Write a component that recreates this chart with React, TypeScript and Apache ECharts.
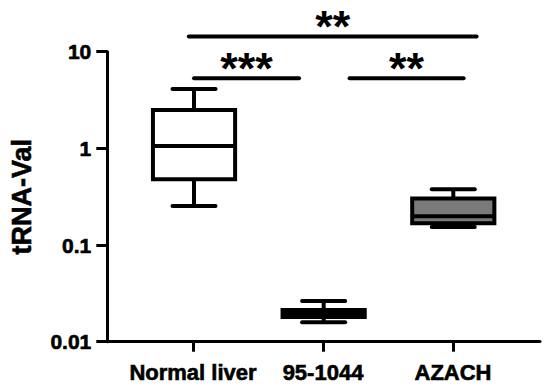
import React, { useEffect, useRef } from 'react';
import * as echarts from 'echarts';

// ---- data ----
const categories = ['Normal liver', '95-1044', 'AZACH'];
const whiskerLow = [0.254, 0.0159, 0.154];
const quartile1 = [0.479, 0.018, 0.168];
const medians = [1.06, 0.0195, 0.198];
const quartile3 = [2.49, 0.0213, 0.303];
const whiskerHigh = [4.11, 0.0264, 0.378];
const yTickValues = [0.01, 0.1, 1, 10];

// significance brackets (x in group index units, y in data units)
const sigStart = [-0.04, 0.0, 1.2];
const sigEnd = [2.18, 0.81, 2.08];
const sigLevel = [14.4, 5.3, 5.3];
const sigText = ['**', '***', '**'];

// ---- styles ----
const BOX_FILLS = ['#ffffff', '#000000', '#7a7a7a'];
const FONT = '"Liberation Sans", Arial, Helvetica, sans-serif';
const LW = 4;

export default function App() {
  const ref = useRef<HTMLDivElement>(null);

  useEffect(() => {
    if (!ref.current) return;
    const chart = echarts.init(ref.current, undefined, { renderer: 'svg' });

    const boxData = categories.map((_, i) => [
      i,
      whiskerLow[i],
      quartile1[i],
      medians[i],
      quartile3[i],
      whiskerHigh[i],
    ]);
    const sigData = sigStart.map((s, i) => [s, sigEnd[i], sigLevel[i], i]);

    const boldText = {
      color: '#000',
      fontFamily: FONT,
      fontWeight: 'bold',
      textBorderColor: '#000',
      textBorderWidth: 0.6,
    };

    const option: any = {
      animation: false,
      backgroundColor: '#ffffff',
      grid: [
        { left: 106, right: 10, top: 51.7, bottom: 47.3, containLabel: false },
        { left: 128, right: 32, top: 51.7, bottom: 47.3, containLabel: false },
      ],
      xAxis: [
        {
          type: 'value',
          gridIndex: 0,
          min: -0.669,
          max: 2.669,
          axisLine: { show: true, onZero: false, lineStyle: { color: '#000', width: 3 } },
          axisTick: { show: false },
          axisLabel: { show: false },
          splitLine: { show: false },
        },
        {
          type: 'category',
          gridIndex: 1,
          data: categories,
          boundaryGap: true,
          axisLine: { show: false, onZero: false },
          axisTick: { show: true, alignWithLabel: true, length: 10, lineStyle: { color: '#000', width: 3 } },
          axisLabel: {
            ...boldText,
            interval: 0,
            hideOverlap: false,
            margin: 20,
            fontSize: 22,
          },
          splitLine: { show: false },
        },
      ],
      yAxis: [
        {
          type: 'log',
          logBase: 10,
          gridIndex: 0,
          min: yTickValues[0],
          max: yTickValues[yTickValues.length - 1],
          name: 'tRNA-Val',
          nameLocation: 'middle',
          nameGap: 72,
          nameRotate: 90,
          nameTextStyle: { ...boldText, fontSize: 27 },
          axisLine: { show: true, onZero: false, lineStyle: { color: '#000', width: 3 } },
          axisTick: { show: true, length: 11, lineStyle: { color: '#000', width: 3 } },
          minorTick: { show: false },
          axisLabel: {
            ...boldText,
            margin: 16,
            fontSize: 21,
            formatter: (v: number) => String(v),
          },
          splitLine: { show: false },
        },
        {
          type: 'log',
          logBase: 10,
          gridIndex: 1,
          min: yTickValues[0],
          max: yTickValues[yTickValues.length - 1],
          show: false,
        },
      ],
      series: [
        {
          type: 'custom',
          xAxisIndex: 0,
          yAxisIndex: 0,
          clip: false,
          data: boxData,
          encode: { x: 0, y: [1, 2, 3, 4, 5] },
          renderItem: (params: any, api: any) => {
            const idx = params.dataIndex;
            const x = api.value(0);
            const pLow = api.coord([x, api.value(1)]);
            const pQ1 = api.coord([x, api.value(2)]);
            const pMed = api.coord([x, api.value(3)]);
            const pQ3 = api.coord([x, api.value(4)]);
            const pHigh = api.coord([x, api.value(5)]);
            const band = api.coord([x + 0.5, 1])[0] - api.coord([x - 0.5, 1])[0];
            const cx = pMed[0];
            const boxHalf = band * 0.317;
            const capHalf = band * 0.166;
            const line = (x1: number, y1: number, x2: number, y2: number, cap = 'round') => ({
              type: 'line',
              shape: { x1, y1, x2, y2 },
              style: { stroke: '#000', lineWidth: LW, lineCap: cap },
            });
            return {
              type: 'group',
              children: [
                line(cx, pHigh[1], cx, pQ3[1], 'butt'),
                line(cx, pQ1[1], cx, pLow[1], 'butt'),
                line(cx - capHalf, pHigh[1], cx + capHalf, pHigh[1]),
                line(cx - capHalf, pLow[1], cx + capHalf, pLow[1]),
                {
                  type: 'rect',
                  shape: { x: cx - boxHalf, y: pQ3[1], width: boxHalf * 2, height: pQ1[1] - pQ3[1] },
                  style: { fill: BOX_FILLS[idx], stroke: '#000', lineWidth: LW },
                },
                line(cx - boxHalf, pMed[1], cx + boxHalf, pMed[1], 'butt'),
              ],
            };
          },
        },
        {
          type: 'custom',
          xAxisIndex: 0,
          yAxisIndex: 0,
          clip: false,
          data: sigData,
          encode: { x: [0, 1], y: 2 },
          renderItem: (params: any, api: any) => {
            const idx = params.dataIndex;
            const p1 = api.coord([api.value(0), api.value(2)]);
            const p2 = api.coord([api.value(1), api.value(2)]);
            return {
              type: 'group',
              children: [
                {
                  type: 'line',
                  shape: { x1: p1[0], y1: p1[1], x2: p2[0], y2: p2[1] },
                  style: { stroke: '#000', lineWidth: LW, lineCap: 'round' },
                },
                {
                  type: 'text',
                  style: {
                    text: sigText[idx],
                    x: (p1[0] + p2[0]) / 2,
                    y: p1[1] - 10,
                    align: 'center',
                    verticalAlign: 'middle',
                    fill: '#000',
                    fontFamily: FONT,
                    fontWeight: 'bold',
                    fontSize: 45,
                  },
                },
              ],
            };
          },
        },
      ],
    };

    chart.setOption(option);
    return () => chart.dispose();
  }, []);

  return (
    <div
      ref={ref}
      style={{ position: 'fixed', left: 0, top: 0, width: 550, height: 389, background: '#fff' }}
    />
  );
}
